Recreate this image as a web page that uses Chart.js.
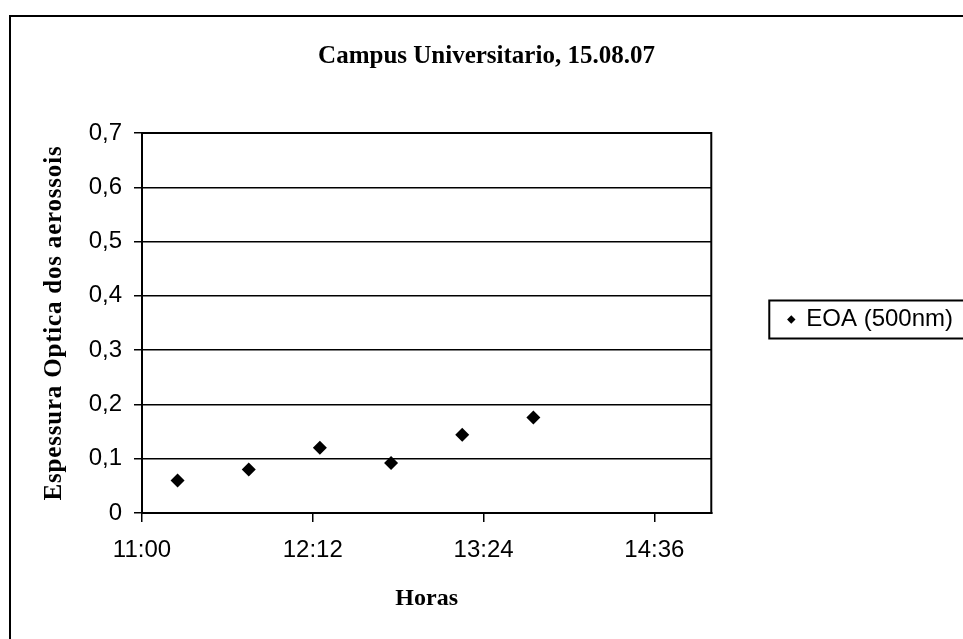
<!DOCTYPE html>
<html lang="pt">
<head>
<meta charset="UTF-8">
<title>Campus Universitario, 15.08.07</title>
<script src="https://cdn.jsdelivr.net/npm/chart.js@4"></script>
<style>
  html, body { margin: 0; padding: 0; background: #fff; }
  #wrap { width: 963px; height: 639px; }
</style>
</head>
<body>
<div id="wrap"><canvas id="grafico" width="963" height="639"></canvas></div>
<script>
// medições do dia 15.08.07 (hora local, EOA a 500nm)
var horas = ['11:15', '11:45', '12:15', '12:45', '13:15', '13:45'];
var eoa = [0.060, 0.080, 0.120, 0.092, 0.144, 0.176];

// escalas
var xTicks = ['11:00', '12:12', '13:24', '14:36'];
var xLimites = ['11:00', '15:00'];
var yTicks = ['0', '0,1', '0,2', '0,3', '0,4', '0,5', '0,6', '0,7'];

function minutos(h) {
    var p = h.split(':');
    return parseInt(p[0], 10) * 60 + parseInt(p[1], 10);
}

var serif = '"Liberation Serif", "Times New Roman", serif';
var sans = '"Liberation Sans", Arial, sans-serif';

// fundo branco, moldura do gráfico, contorno da área e caixa da legenda
var moldura = {
    id: 'moldura',
    beforeDraw: function (chart) {
        var ctx = chart.ctx;
        ctx.save();
        ctx.fillStyle = '#fff';
        ctx.fillRect(0, 0, chart.width, chart.height);
        ctx.restore();
    },
    afterLayout: function (chart) {
        // o título do eixo y no original tem as letras mais afastadas
        var s = chart.scales.y;
        if (s && !s._espacado) {
            var original = s.drawTitle;
            s.drawTitle = function () {
                this.ctx.save();
                this.ctx.letterSpacing = '0.8px';
                original.apply(this, arguments);
                this.ctx.restore();
            };
            s._espacado = true;
        }
    },
    afterDraw: function (chart) {
        var ctx = chart.ctx, a = chart.chartArea;
        ctx.save();
        ctx.strokeStyle = '#000';
        ctx.lineWidth = 2;
        ctx.strokeRect(a.left, a.top, a.right - a.left, a.bottom - a.top);

        ctx.beginPath();
        ctx.moveTo(10, chart.height);
        ctx.lineTo(10, 16);
        ctx.lineTo(chart.width, 16);
        ctx.stroke();

        var hb = chart.legend.legendHitBoxes[0];
        if (hb) {
            ctx.strokeRect(hb.left - 19, hb.top - 7, 300, hb.height + 14);
        }
        ctx.restore();
    }
};

var ctx = document.getElementById('grafico').getContext('2d');
var chart = new Chart(ctx, {
    type: 'scatter',
    data: {
        datasets: [{
            label: 'EOA (500nm)',
            data: horas.map(function (h, i) { return { x: minutos(h), y: eoa[i] }; }),
            pointStyle: 'rectRot',
            pointRadius: 7,
            pointHoverRadius: 7,
            backgroundColor: '#000',
            borderColor: '#000',
            borderWidth: 0
        }]
    },
    options: {
        responsive: false,
        animation: false,
        devicePixelRatio: 1,
        layout: { padding: { left: 10, top: 0, right: 0, bottom: 0 } },
        plugins: {
            title: {
                display: true,
                text: 'Campus Universitario, 15.08.07',
                color: '#000',
                font: { family: serif, size: 25, weight: 'bold' },
                padding: { top: 42, bottom: 61 }
            },
            legend: {
                display: true,
                position: 'right',
                maxWidth: 300,
                labels: {
                    usePointStyle: true,
                    boxWidth: 6,
                    boxHeight: 6,
                    padding: 77,
                    color: '#000',
                    font: { family: sans, size: 24 }
                }
            },
            tooltip: { enabled: false }
        },
        scales: {
            x: {
                type: 'linear',
                position: 'bottom',
                min: minutos(xLimites[0]),
                max: minutos(xLimites[1]),
                afterBuildTicks: function (scale) {
                    scale.ticks = xTicks.map(function (t) { return { value: minutos(t) }; });
                },
                afterFit: function (scale) { scale.height = 126; },
                ticks: {
                    color: '#000',
                    padding: 14,
                    maxRotation: 0,
                    autoSkip: false,
                    font: { family: sans, size: 24 },
                    callback: function (v, i) { return xTicks[i]; }
                },
                grid: { drawOnChartArea: false, drawTicks: true, tickLength: 9, color: '#000', lineWidth: 1.5 },
                border: { display: true, color: '#000', width: 2 },
                title: {
                    display: true,
                    text: 'Horas',
                    color: '#000',
                    font: { family: serif, size: 24, weight: 'bold' },
                    padding: { top: 0, bottom: 26 }
                }
            },
            y: {
                min: 0,
                max: 0.7,
                afterFit: function (scale) { scale.width = 132; },
                ticks: {
                    stepSize: 0.1,
                    color: '#000',
                    padding: 12,
                    font: { family: sans, size: 24 },
                    callback: function (v, i) { return yTicks[i]; }
                },
                grid: { color: '#000', lineWidth: 1.5, tickLength: 8 },
                border: { display: true, color: '#000', width: 2 },
                title: {
                    display: true,
                    text: 'Espessura Optica dos aerossois',
                    color: '#000',
                    font: { family: serif, size: 25, weight: 'bold' },
                    padding: { top: 30, bottom: 0 }
                }
            }
        }
    },
    plugins: [moldura]
});
</script>
</body>
</html>
